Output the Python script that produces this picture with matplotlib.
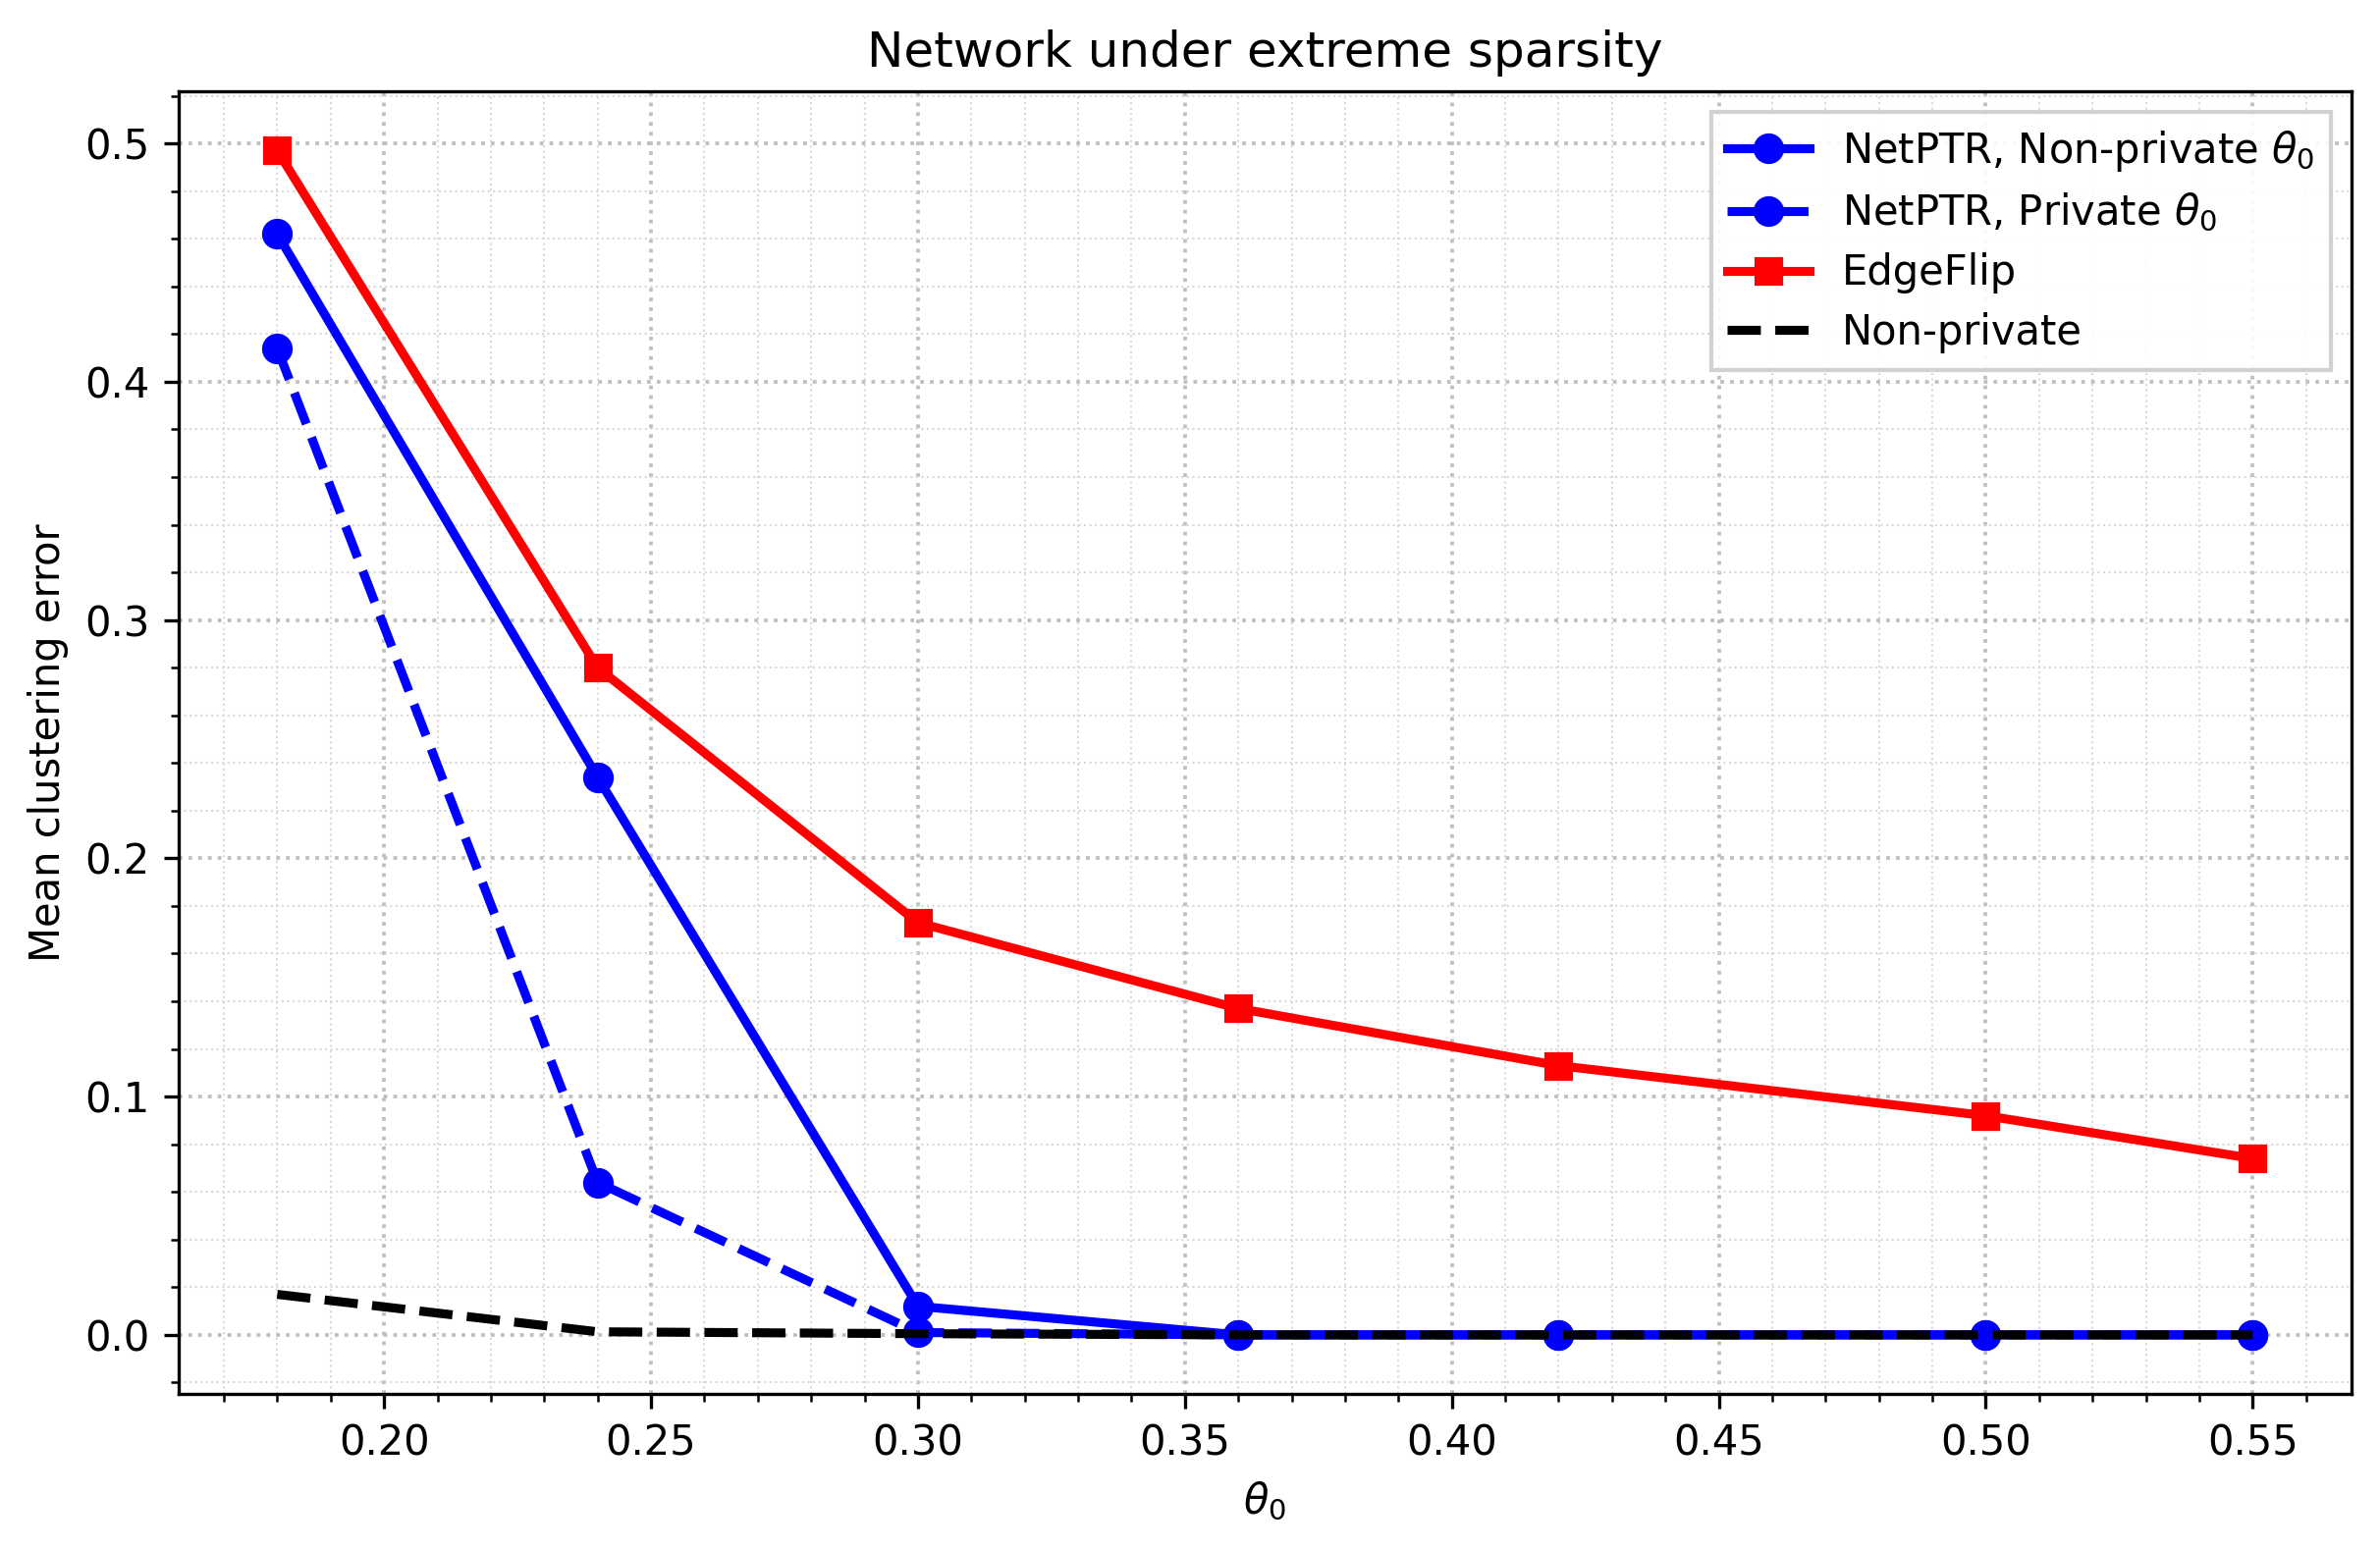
import matplotlib
matplotlib.use("Agg")
import matplotlib.pyplot as plt
from matplotlib.ticker import AutoMinorLocator

theta = [0.18, 0.24, 0.30, 0.36, 0.42, 0.50, 0.55]
netptr_nonpriv = [0.462, 0.234, 0.012, 0.0, 0.0, 0.0, 0.0]
netptr_priv = [0.414, 0.064, 0.001, 0.0, 0.0, 0.0, 0.0]
edgeflip = [0.497, 0.280, 0.173, 0.137, 0.113, 0.092, 0.074]
nonprivate = [0.017, 0.0013, 0.0005, 0.0, 0.0, 0.0, 0.0]

fig, ax = plt.subplots(figsize=(8.08, 5.26), dpi=300)

ax.plot(theta, netptr_nonpriv, '-o', color='blue', lw=2.2, ms=6.5,
        label=r'NetPTR, Non-private $\theta_0$')
ax.plot(theta, netptr_priv, '--o', color='blue', lw=2.2, ms=6.5,
        label=r'NetPTR, Private $\theta_0$')
ax.plot(theta, edgeflip, '-s', color='red', lw=2.2, ms=6,
        label='EdgeFlip')
ax.plot(theta, nonprivate, '--', color='black', lw=2.2,
        label='Non-private')

ax.xaxis.set_minor_locator(AutoMinorLocator(5))
ax.yaxis.set_minor_locator(AutoMinorLocator(5))
ax.grid(True, which='major', ls=':', color='0.75', lw=0.9)
ax.grid(True, which='minor', ls=':', color='0.85', lw=0.5)

ax.set_title('Network under extreme sparsity', fontsize=12)
ax.set_xlabel(r'$\theta_0$', fontsize=10)
ax.set_ylabel('Mean clustering error', fontsize=10)

leg = ax.legend(loc='upper right', fontsize=10, fancybox=False, framealpha=0.9,
                labelspacing=0.45)
leg.get_frame().set_edgecolor('0.8')

fig.subplots_adjust(left=0.075, right=0.988, top=0.941, bottom=0.1)
fig.savefig('out.png', dpi=300)
